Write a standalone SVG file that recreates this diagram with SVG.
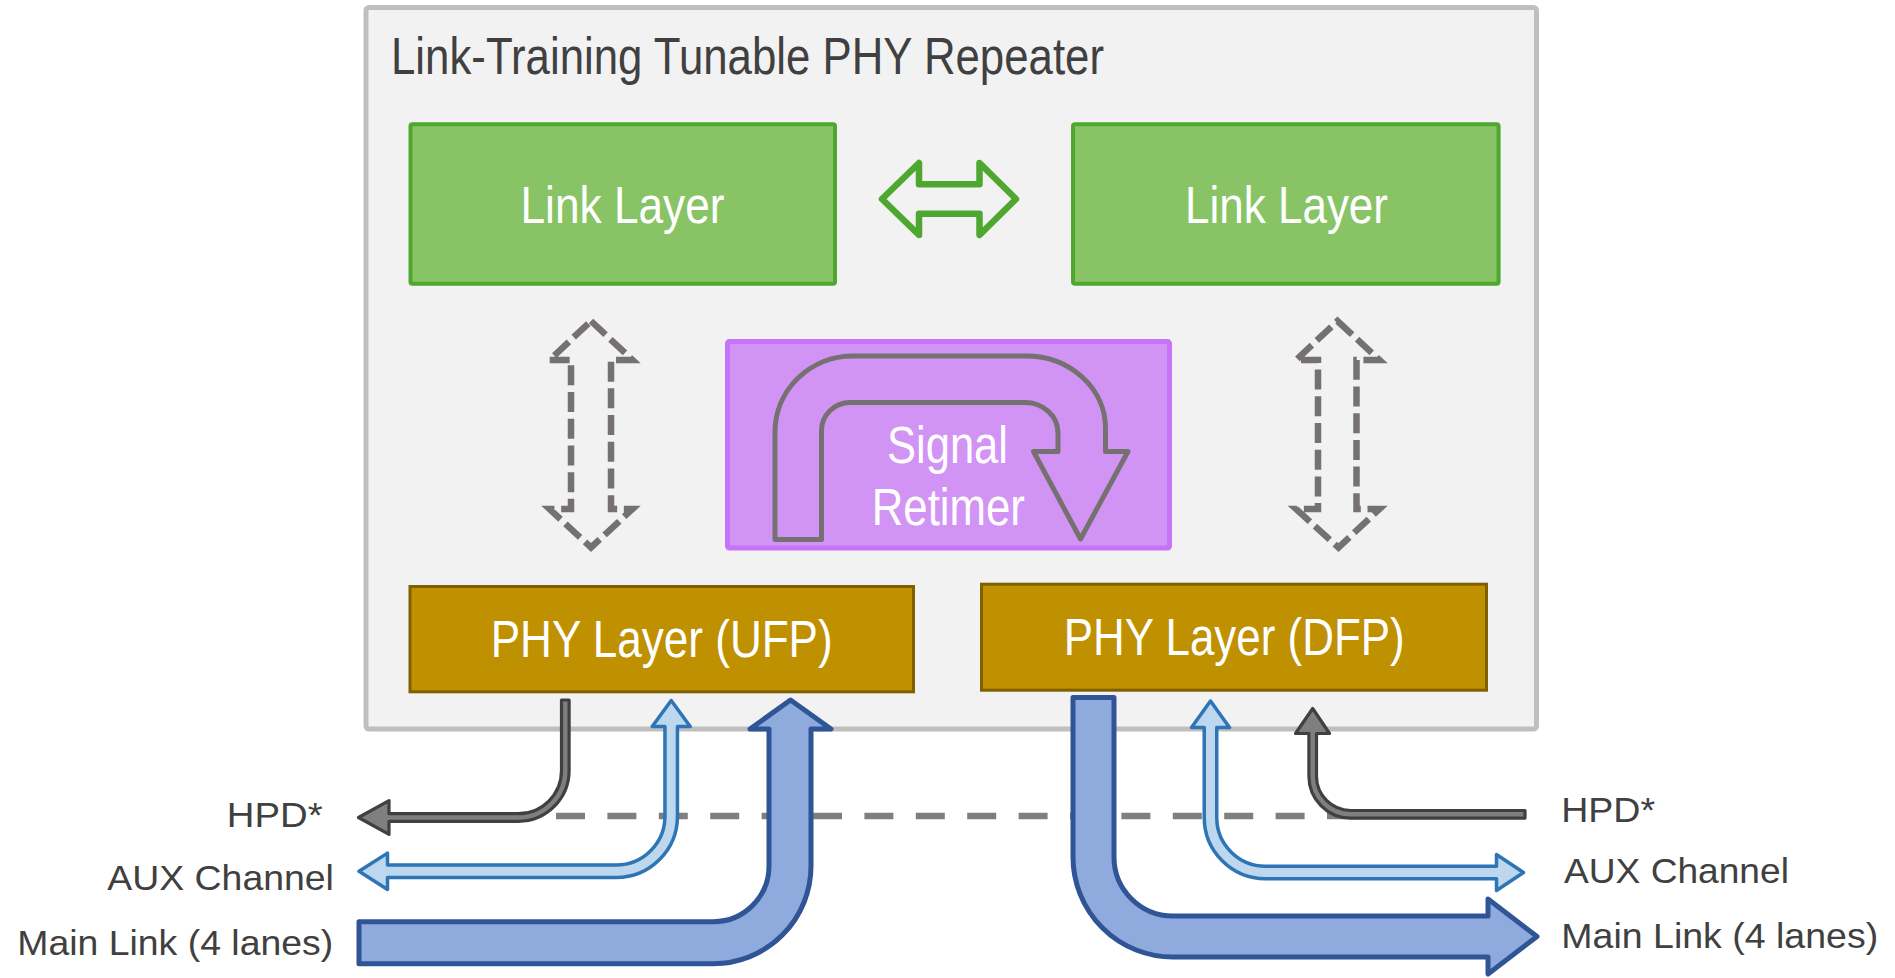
<svg xmlns="http://www.w3.org/2000/svg" width="1895" height="978" viewBox="0 0 1895 978">
  <style>
    .box-text { font-family: "Liberation Sans", Arial, sans-serif; fill: #ffffff; text-anchor: middle; }
    .label { font-family: "Liberation Sans", Arial, sans-serif; font-size: 35px; fill: #404040; }
    .link { fill: #88c466; stroke: #4ea72e; stroke-width: 4; }
    .phy { fill: #bf9000; stroke: #7f6000; stroke-width: 3; }
    .dash-arrow { fill: none; stroke: #767171; stroke-width: 6.5; stroke-dasharray: 20 6.7; }
    .hpd { fill: #7f7f7f; stroke: #404040; stroke-width: 3.2; stroke-linejoin: round; }
    .aux { fill: #bdd7ee; stroke: #2e75b6; stroke-width: 3.5; stroke-linejoin: round; }
    .main { fill: #8faadc; stroke: #2f5597; stroke-width: 5; stroke-linejoin: round; }
  </style>

  <rect width="1895" height="978" fill="#ffffff"/>

  <!-- repeater enclosure -->
  <g id="repeater">
    <rect x="366" y="7.5" width="1170.5" height="721.5" rx="3" fill="#f2f2f2" stroke="#bfbfbf" stroke-width="5"/>
    <text x="391" y="73.5" font-family="Liberation Sans, Arial, sans-serif" font-size="52.5" fill="#404040" textLength="713" lengthAdjust="spacingAndGlyphs">Link-Training Tunable PHY Repeater</text>
  </g>

  <g id="link-layer-ufp">
    <rect class="link" x="410.5" y="124.3" width="424.5" height="159.4" rx="2"/>
    <text class="box-text" x="622.5" y="223" font-size="52" textLength="204" lengthAdjust="spacingAndGlyphs">Link Layer</text>
  </g>

  <g id="link-layer-dfp">
    <rect class="link" x="1073" y="124.3" width="425.6" height="159.4" rx="2"/>
    <text class="box-text" x="1286.5" y="223" font-size="52" textLength="203" lengthAdjust="spacingAndGlyphs">Link Layer</text>
  </g>

  <g id="signal-retimer">
    <rect x="727.5" y="341.5" width="442" height="206.5" rx="2" fill="#d294f4" stroke="#c773f7" stroke-width="5"/>
    <!-- U-turn arrow -->
    <path d="M 775 539.5 L 775 432 A 78 76 0 0 1 853 356 L 1026 356 A 79.5 72 0 0 1 1105.5 428 L 1105.5 451.5 L 1128 451.5 L 1080.5 539 L 1033.5 451.5 L 1058 451.5 L 1058 433 A 33 30.5 0 0 0 1025 402.5 L 850 402.5 A 28.5 28.5 0 0 0 821.5 431 L 821.5 539.5 Z" fill="none" stroke="#767171" stroke-width="5" stroke-linejoin="round"/>
    <text class="box-text" x="947.5" y="463.3" font-size="51" textLength="121" lengthAdjust="spacingAndGlyphs">Signal</text>
    <text class="box-text" x="948.3" y="525" font-size="51" textLength="153" lengthAdjust="spacingAndGlyphs">Retimer</text>
  </g>

  <g id="phy-layer-ufp">
    <rect class="phy" x="410" y="586.5" width="503.5" height="105.3"/>
    <text class="box-text" x="661.7" y="656.7" font-size="51" textLength="342" lengthAdjust="spacingAndGlyphs">PHY Layer (UFP)</text>
  </g>

  <g id="phy-layer-dfp">
    <rect class="phy" x="981.5" y="584.2" width="505" height="106"/>
    <text class="box-text" x="1234.2" y="655" font-size="51" textLength="341" lengthAdjust="spacingAndGlyphs">PHY Layer (DFP)</text>
  </g>

  <!-- port labels -->
  <g id="labels-upstream">
    <text class="label" x="226.8" y="826.7" textLength="95.8" lengthAdjust="spacingAndGlyphs">HPD*</text>
    <text class="label" x="107.3" y="890" textLength="226.6" lengthAdjust="spacingAndGlyphs">AUX Channel</text>
    <text class="label" x="17.3" y="955" textLength="315.9" lengthAdjust="spacingAndGlyphs">Main Link (4 lanes)</text>
  </g>
  <g id="labels-downstream">
    <text class="label" x="1561.2" y="821.7" textLength="93.9" lengthAdjust="spacingAndGlyphs">HPD*</text>
    <text class="label" x="1564" y="883.3" textLength="224.9" lengthAdjust="spacingAndGlyphs">AUX Channel</text>
    <text class="label" x="1561.3" y="948.3" textLength="316.9" lengthAdjust="spacingAndGlyphs">Main Link (4 lanes)</text>
  </g>

  <g id="connectors">
    <!-- link layer to link layer -->
    <polygon points="882,199 919,163 919,184.3 979.5,184.3 979.5,163 1016,199 979.5,235 979.5,213.7 919,213.7 919,235" fill="none" stroke="#4ea72e" stroke-width="6.5" stroke-linejoin="round"/>
    <!-- link layer to PHY layer (dashed) -->
    <polygon class="dash-arrow" points="591,321 632.5,360 611,360 611,509 632.5,509 591,547.5 549.5,509 571,509 571,360 549.5,360"/>
    <polygon class="dash-arrow" points="1337.5,321 1379.5,360 1356.5,360 1356.5,509 1379.5,509 1338.5,547.5 1296,509 1318,509 1318,360 1296,360"/>
    <!-- sideband separator -->
    <line x1="556" y1="816" x2="1356" y2="816" stroke="#7f7f7f" stroke-width="6.5" stroke-dasharray="29 22.4"/>
    <!-- upstream side -->
    <path class="hpd" d="M 561.5 700 L 569.1 700 L 569.1 770.5 A 50.8 50.8 0 0 1 518.3 821.3 L 389 821.3 L 389 834.4 L 358.5 817.5 L 389 800.6 L 389 813.7 L 518.3 813.7 A 43.2 43.2 0 0 0 561.5 770.5 Z"/>
    <path class="aux" d="M 671.2 700.5 L 690.2 726.5 L 677.45 726.5 L 677.45 816.3 A 61.25 61.25 0 0 1 616.2 877.55 L 387.5 877.55 L 387.5 889.5 L 359 871.3 L 387.5 853.1 L 387.5 865.05 L 616.2 865.05 A 48.75 48.75 0 0 0 664.95 816.3 L 664.95 726.5 L 652.2 726.5 Z"/>
    <path class="main" d="M 790.5 700 L 831 729 L 811 729 L 811 866 A 97.7 97.7 0 0 1 713.3 963.7 L 359 963.7 L 359 921.7 L 713.3 921.7 A 55.7 55.7 0 0 0 769 866 L 769 729 L 750 729 Z"/>
    <!-- downstream side -->
    <path class="main" d="M 1073 697.5 L 1114 697.5 L 1114 857 A 59 59 0 0 0 1173 916 L 1488 916 L 1488 899 L 1537 936.5 L 1488 974 L 1488 957 L 1173 957 A 100 100 0 0 1 1073 857 Z"/>
    <path class="aux" d="M 1210.5 701 L 1229.5 727.5 L 1216.75 727.5 L 1216.75 817.5 A 48.75 48.75 0 0 0 1265.5 866.25 L 1496.5 866.25 L 1496.5 854.5 L 1523.5 872.5 L 1496.5 890.5 L 1496.5 878.75 L 1265.5 878.75 A 61.25 61.25 0 0 1 1204.25 817.5 L 1204.25 727.5 L 1191.5 727.5 Z"/>
    <path class="hpd" d="M 1312.7 708.5 L 1329.5 733.5 L 1316.5 733.5 L 1316.5 776.3 A 34.2 34.2 0 0 0 1350.7 810.5 L 1525 810.5 L 1525 818.1 L 1350.7 818.1 A 41.8 41.8 0 0 1 1308.9 776.3 L 1308.9 733.5 L 1295.5 733.5 Z"/>
  </g>
</svg>
